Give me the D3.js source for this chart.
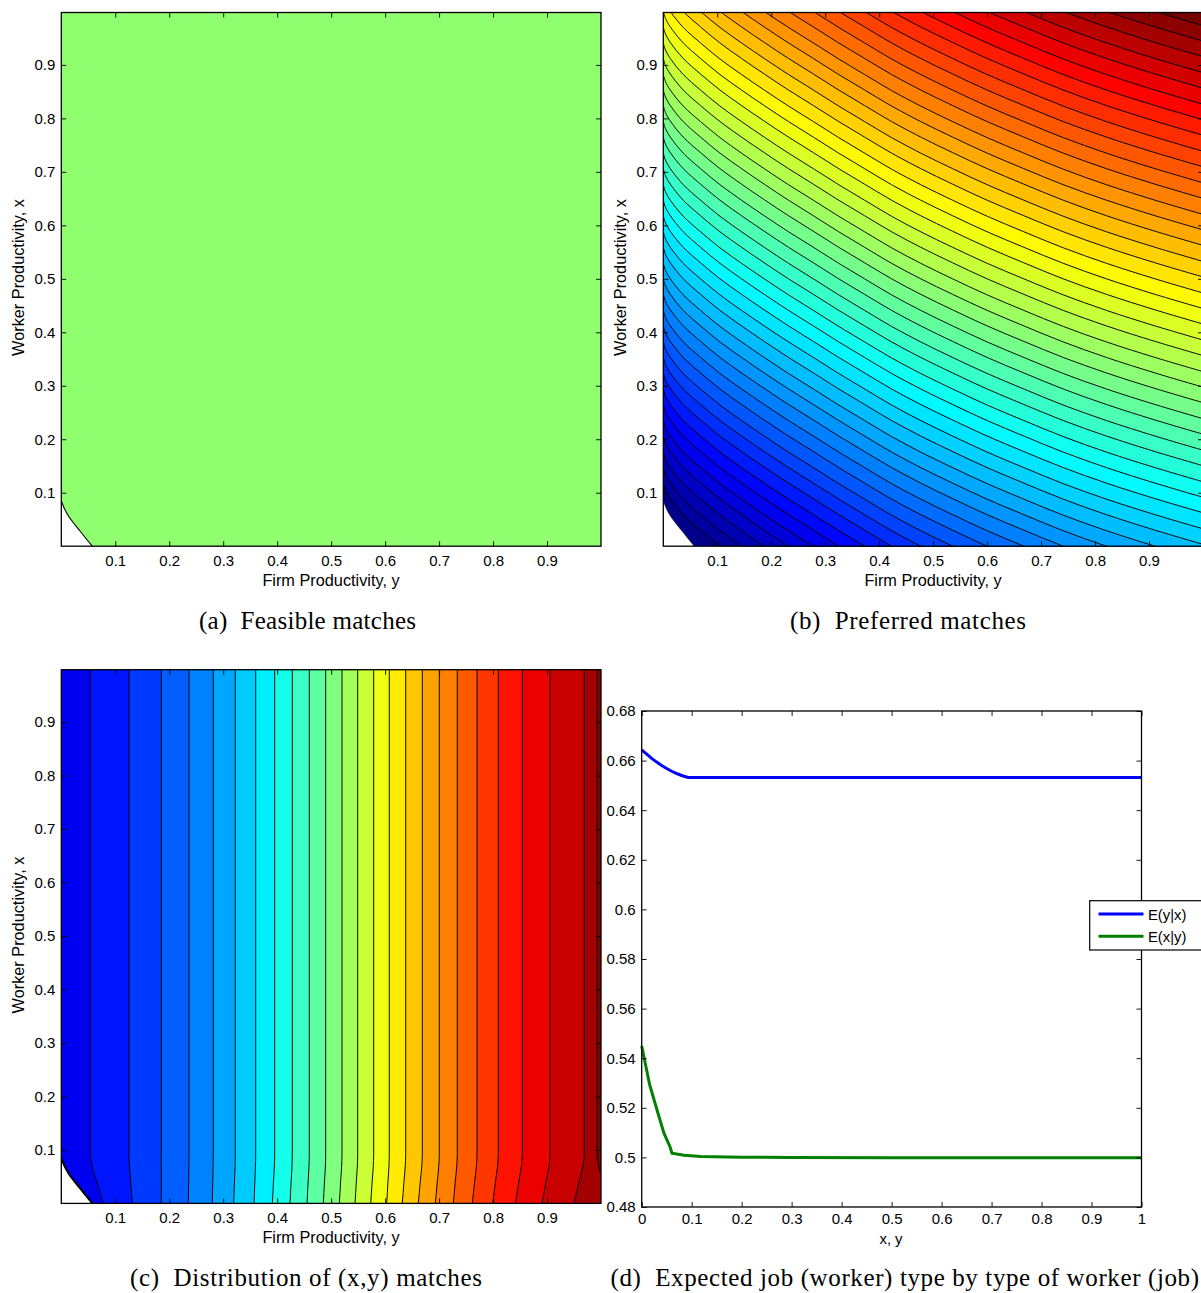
<!DOCTYPE html>
<html><head><meta charset="utf-8">
<script src="https://cdn.jsdelivr.net/npm/d3@7"></script>
<style>
html,body{margin:0;padding:0;background:#fff;overflow:hidden}
svg{display:block}
text{fill:#000}
</style></head><body>
<svg id="chart" width="1201" height="1293"></svg>
<script>
// ---- data ----
const gridTicks = [0.1,0.2,0.3,0.4,0.5,0.6,0.7,0.8,0.9];
const lineXTicks = [0,0.1,0.2,0.3,0.4,0.5,0.6,0.7,0.8,0.9,1];
const lineYTicks = [0.48,0.5,0.52,0.54,0.56,0.58,0.6,0.62,0.64,0.66,0.68];

// infeasible corner boundary (firm y, worker x)
const boundaryFirm = [0,0.005,0.0135,0.035,0.0574];
const boundaryWorker = [0.085,0.072,0.056,0.028,0];

// panel (b): shared contour profile, and each contour's level
const prefFirm = [0,0.004,0.013,0.037,0.069,0.105,0.145,0.187,0.232,0.278,0.325,0.373,0.423,0.477,0.536,0.6,0.668,0.741,0.821,0.911,1];
const prefDrop = [0,0.013,0.029,0.059,0.088,0.118,0.147,0.176,0.206,0.235,0.265,0.294,0.324,0.353,0.382,0.412,0.441,0.471,0.5,0.529,0.5555];
const prefLevels = [0.118,0.147,0.176,0.206,0.235,0.265,0.294,0.324,0.353,0.382,0.412,0.441,0.471,0.5,0.529,0.559,0.588,0.618,0.647,0.676,0.706,0.735,0.765,0.794,0.824,0.853,0.882,0.912,0.941,0.971,1,1.029,1.059,1.088,1.118,1.147,1.176,1.206,1.235,1.265,1.294,1.324,1.353,1.382,1.412,1.441,1.471,1.5,1.529];

// panel (c): contour x at the top of the plot and at the bottom
const distTop = [0.0537,0.1254,0.1853,0.2366,0.2816,0.3224,0.3602,0.3954,0.428,0.4595,0.4899,0.5201,0.5492,0.5788,0.6077,0.6381,0.6689,0.7004,0.7337,0.7703,0.8097,0.8542,0.9055,0.9691,0.9926];
const distBottom = [0.0778,0.1316,0.1853,0.2353,0.2798,0.3194,0.3571,0.391,0.4238,0.4553,0.4855,0.5151,0.5442,0.5733,0.6029,0.6318,0.6615,0.693,0.7263,0.7615,0.7993,0.8412,0.8907,0.95,1.015];
const distWorker = [0,0.02,0.04,0.055,0.068,0.08,0.092,1];
const distBend = [1,0.75,0.52,0.31,0.15,0.05,0,0];
const distBandCount = 26;

// panel (d)
const eYx_x = [0,0.01,0.02,0.03,0.04,0.05,0.06,0.07,0.08,0.0927,0.2,0.4,0.6,0.8,1];
const eYx_v = [0.6643,0.6626,0.6609,0.6594,0.658,0.6568,0.6557,0.6548,0.654,0.6532,0.6532,0.6532,0.6532,0.6532,0.6532];
const eXy_x = [0,0.016,0.0326,0.0446,0.0566,0.0606,0.0846,0.118,0.2,0.3,0.5,1];
const eXy_v = [0.5449,0.5292,0.5178,0.5097,0.5043,0.5017,0.5009,0.5004,0.5001,0.5,0.4999,0.4999];
const legendLabels = ["E(y|x)","E(x|y)"];
const seriesColors = ["#0000ff","#007f00"];

const captions = ["(a)\u00a0\u00a0Feasible matches","(b)\u00a0\u00a0Preferred matches","(c)\u00a0\u00a0Distribution of (x,y) matches","(d)\u00a0\u00a0Expected job (worker) type by type of worker (job)"];

// ---- helpers ----
const clamp01 = v => Math.max(0, Math.min(1, v));
function jet(t){
  const r = clamp01(Math.min(4*t-1.5, -4*t+4.5));
  const g = clamp01(Math.min(4*t-0.5, -4*t+3.5));
  const b = clamp01(Math.min(4*t+0.5, -4*t+2.5));
  return d3.rgb(r*255, g*255, b*255).formatHex();
}
const svg = d3.select("#chart");
const FONT = "'Liberation Sans', Arial, sans-serif";
const TICK_SIZE = 15;

function drawAxes(g, x, y, xTicks, yTicks, fmtX, fmtY, xPad){
  const [x0,x1] = x.range(), [y0,y1] = y.range();
  g.append("rect").attr("x",x0).attr("y",y1).attr("width",x1-x0).attr("height",y0-y1)
    .attr("fill","none").attr("stroke","#000").attr("stroke-width",1.3);
  const deco = (sel) => {
    sel.select(".domain").remove();
    sel.selectAll("line").attr("stroke","#000").attr("stroke-width",0.9);
    sel.selectAll("text").attr("font-family",FONT).attr("font-size",TICK_SIZE).attr("fill","#1a1a1a");
  };
  g.append("g").attr("transform",`translate(0,${y0})`)
    .call(d3.axisBottom(x).tickValues(xTicks).tickFormat(fmtX).tickSizeInner(-5).tickSizeOuter(0).tickPadding(xPad)).call(deco);
  g.append("g").attr("transform",`translate(0,${y1})`)
    .call(d3.axisTop(x).tickValues(xTicks).tickFormat("").tickSizeInner(-5).tickSizeOuter(0)).call(deco);
  g.append("g").attr("transform",`translate(${x0},0)`)
    .call(d3.axisLeft(y).tickValues(yTicks).tickFormat(fmtY).tickSizeInner(-5).tickSizeOuter(0).tickPadding(6)).call(deco);
  g.append("g").attr("transform",`translate(${x1},0)`)
    .call(d3.axisRight(y).tickValues(yTicks).tickFormat("").tickSizeInner(-5).tickSizeOuter(0)).call(deco);
}

function label(txt, cx, cy, rotate, size){
  const t = svg.append("text").text(txt).attr("font-family",FONT).attr("font-size",size||16.3)
    .attr("text-anchor","middle").attr("dominant-baseline","central").attr("fill","#1a1a1a");
  if(rotate) t.attr("transform",`translate(${cx},${cy}) rotate(-90)`);
  else t.attr("x",cx).attr("y",cy);
}
function caption(txt, x0, x1, base){
  svg.append("text").text(txt).attr("x",x0).attr("y",base)
    .attr("font-family","'Liberation Serif', serif").attr("font-size",25)
    .attr("textLength",x1-x0).attr("lengthAdjust","spacing").attr("fill","#111");
}

function panelScales(left, top){
  return {
    x: d3.scaleLinear().domain([0,1]).range([left, left+539.7]),
    y: d3.scaleLinear().domain([0,0.998]).range([top+533.7, top])
  };
}
function addClip(id, x, y){
  svg.append("clipPath").attr("id",id).append("rect")
    .attr("x",x.range()[0]).attr("y",y.range()[1])
    .attr("width",x.range()[1]-x.range()[0]).attr("height",y.range()[0]-y.range()[1]);
}
function whiteCorner(g, x, y, sw){
  const pts = boundaryFirm.map((f,i)=>[f,boundaryWorker[i]]);
  const line = d3.line().x(d=>x(d[0])).y(d=>y(d[1])).curve(d3.curveCatmullRom.alpha(0.5));
  const d = line(pts);
  g.append("path").attr("d", d+`L${x(0)},${y(0)}Z`).attr("fill","#fff");
  g.append("path").attr("d", d).attr("fill","none").attr("stroke","#000").attr("stroke-width",sw);
}

// ---- panel (a) ----
{
  const {x,y} = panelScales(61.3,12.5);
  addClip("clipA",x,y);
  const g = svg.append("g");
  const inner = g.append("g").attr("clip-path","url(#clipA)");
  inner.append("rect").attr("x",x(0)).attr("y",y(0.998)).attr("width",x(1)-x(0)).attr("height",y(0)-y(0.998)).attr("fill","#8fff70");
  whiteCorner(inner,x,y,1.1);
  drawAxes(g,x,y,gridTicks,gridTicks,d3.format(".1f"),d3.format(".1f"),9);
  label("Firm Productivity, y",331,579.5);
  label("Worker Productivity, x",18,277.5,true);
  caption(captions[0],199,416,628.5);
}

// ---- panel (b) ----
{
  const {x,y} = panelScales(663.3,12.5);
  addClip("clipB",x,y);
  const g = svg.append("g");
  const inner = g.append("g").attr("clip-path","url(#clipB)");
  const n = prefLevels.length+1;
  const bandT = i => { const t=(i+0.5)/n; return t+Math.max(0,t-0.85)*0.15; };
  inner.append("rect").attr("x",x(0)).attr("y",y(0.998)).attr("width",x(1)-x(0)).attr("height",y(0)-y(0.998)).attr("fill",jet(bandT(0)));
  const curve = d3.line().x(d=>x(d[0])).y(d=>y(d[1])).curve(d3.curveCatmullRom.alpha(0.5));
  const profile = lv => prefFirm.map((f,j)=>[f, lv-prefDrop[j]]);
  prefLevels.forEach((lv,i)=>{
    const d = curve(profile(lv)) + `L${x(1)},${y(3)}L${x(0)},${y(3)}Z`;
    inner.append("path").attr("d",d).attr("fill",jet(bandT(i+1)));
  });
  prefLevels.forEach(lv=>{
    inner.append("path").attr("d",curve(profile(lv))).attr("fill","none").attr("stroke","#000").attr("stroke-width",0.95);
  });
  whiteCorner(inner,x,y,0.6);
  drawAxes(g,x,y,gridTicks,gridTicks,d3.format(".1f"),d3.format(".1f"),9);
  label("Firm Productivity, y",933,579.5);
  label("Worker Productivity, x",620,277.5,true);
  caption(captions[1],790,1026,628.5);
}

// ---- panel (c) ----
{
  const {x,y} = panelScales(61.3,669.7);
  addClip("clipC",x,y);
  const g = svg.append("g");
  const inner = g.append("g").attr("clip-path","url(#clipC)");
  const bandT = i => 0.11+0.89*i/(distBandCount-1);
  inner.append("rect").attr("x",x(0)).attr("y",y(0.998)).attr("width",x(1)-x(0)).attr("height",y(0)-y(0.998)).attr("fill",jet(bandT(0)));
  const curve = d3.line().x(d=>x(d[0])).y(d=>y(d[1])).curve(d3.curveMonotoneY);
  const shape = i => distWorker.map((w,j)=>[distTop[i]+(distBottom[i]-distTop[i])*distBend[j], w]);
  distTop.forEach((_,i)=>{
    const d = curve(shape(i)) + `L${x(1.1)},${y(1)}L${x(1.1)},${y(0)}Z`;
    inner.append("path").attr("d",d).attr("fill",jet(bandT(i+1)));
  });
  distTop.forEach((_,i)=>{
    inner.append("path").attr("d",curve(shape(i))).attr("fill","none").attr("stroke","#000").attr("stroke-width",0.95);
  });
  whiteCorner(inner,x,y,2);
  drawAxes(g,x,y,gridTicks,gridTicks,d3.format(".1f"),d3.format(".1f"),9);
  label("Firm Productivity, y",331,1236.5);
  label("Worker Productivity, x",18,935,true);
  caption(captions[2],130,482,1285.5);
}

// ---- panel (d) ----
{
  const x = d3.scaleLinear().domain([0,1]).range([641.7,1141.5]);
  const y = d3.scaleLinear().domain([0.48,0.68]).range([1207,711]);
  const g = svg.append("g");
  const line = d3.line().x(d=>x(d[0])).y(d=>y(d[1]));
  g.append("path").attr("d",line(eYx_x.map((v,i)=>[v,eYx_v[i]]))).attr("fill","none").attr("stroke",seriesColors[0]).attr("stroke-width",3);
  g.append("path").attr("d",line(eXy_x.map((v,i)=>[v,eXy_v[i]]))).attr("fill","none").attr("stroke",seriesColors[1]).attr("stroke-width",3);
  drawAxes(g,x,y,lineXTicks,lineYTicks,d3.format("~g"),d3.format("~g"),6);
  label("x, y",891,1238.5,false,14.8);
  // legend
  const lg = svg.append("g");
  lg.append("rect").attr("x",1089.7).attr("y",900.7).attr("width",130).attr("height",49.3).attr("fill","#fff").attr("stroke","#000").attr("stroke-width",1.2);
  legendLabels.forEach((t,i)=>{
    const ly = 914+i*22.3;
    lg.append("line").attr("x1",1098.5).attr("x2",1143.5).attr("y1",ly).attr("y2",ly).attr("stroke",seriesColors[i]).attr("stroke-width",3);
    lg.append("text").text(t).attr("x",1148).attr("y",ly+0.5).attr("font-family",FONT).attr("font-size",14.8).attr("dominant-baseline","central").attr("fill","#1a1a1a");
  });
  caption(captions[3],610.5,1199,1285.5);
}
</script>
</body></html>
